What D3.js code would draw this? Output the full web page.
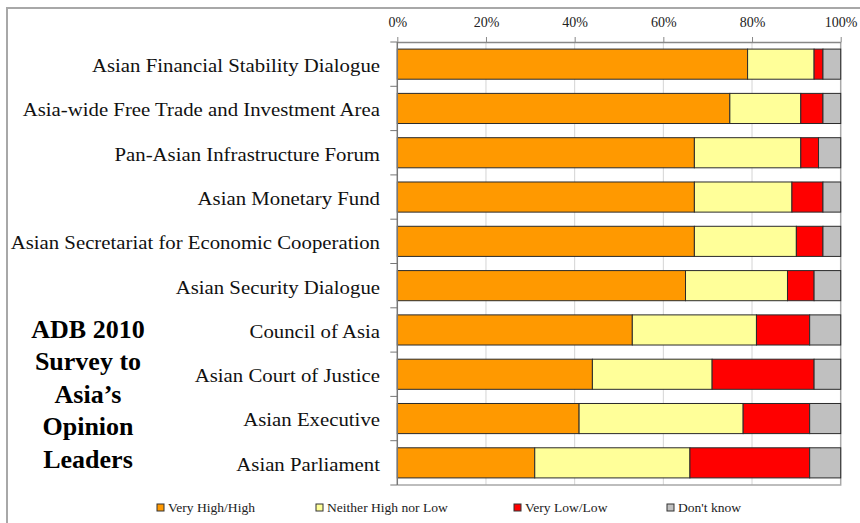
<!DOCTYPE html>
<html>
<head>
<meta charset="utf-8">
<script src="https://cdn.jsdelivr.net/npm/d3@7"></script>
<style>
  html, body { margin: 0; padding: 0; background: #fff; }
  svg { display: block; }
</style>
</head>
<body>
<svg id="chart" width="860" height="523"></svg>
<script>
// Survey responses: share of opinion leaders rating each proposed institution
const categories = [
  "Asian Financial Stability Dialogue",
  "Asia-wide Free Trade and Investment Area",
  "Pan-Asian Infrastructure Forum",
  "Asian Monetary Fund",
  "Asian Secretariat for Economic Cooperation",
  "Asian Security Dialogue",
  "Council of Asia",
  "Asian Court of Justice",
  "Asian Executive",
  "Asian Parliament"
];
const veryHigh = [79, 75, 67, 67, 67, 65, 53, 44, 41, 31];
const neither  = [15, 16, 24, 22, 23, 23, 28, 27, 37, 35];
const veryLow  = [2, 5, 4, 7, 6, 6, 12, 23, 15, 27];
const dontKnow = [4, 4, 5, 4, 4, 6, 7, 6, 7, 7];

const seriesNames = ["Very High/High", "Neither High nor Low", "Very Low/Low", "Don't know"];
const seriesColors = ["#FF9900", "#FFFF99", "#FF0000", "#C0C0C0"];
const tickValues = [0, 0.2, 0.4, 0.6, 0.8, 1];
const titleLines = ["ADB 2010", "Survey to", "Asia\u2019s", "Opinion", "Leaders"];

const rows = categories.map((c, i) => ({
  category: c, v0: veryHigh[i], v1: neither[i], v2: veryLow[i], v3: dontKnow[i]
}));
const stack = d3.stack().keys(["v0", "v1", "v2", "v3"]).offset(d3.stackOffsetExpand);
const layers = stack(rows);

const svg = d3.select("#chart");
const serif = "'Liberation Serif', 'Times New Roman', serif";

// outer frame
svg.append("path")
  .attr("d", "M7,523 V8 H860")
  .attr("fill", "none").attr("stroke", "#a8a8a8").attr("stroke-width", 2);

const plot = { left: 397.3, right: 840.7, top: 42, bottom: 485 };
const x = d3.scaleLinear().domain([0, 1]).range([plot.left, plot.right]);
const y = d3.scaleBand().domain(categories).range([plot.top, plot.bottom])
  .paddingInner(0.32).paddingOuter(0.16);

// vertical gridlines
svg.append("g").selectAll("line")
  .data(tickValues.slice(1, -1))
  .join("line")
  .attr("x1", d => x(d)).attr("x2", d => x(d))
  .attr("y1", plot.top).attr("y2", plot.bottom)
  .attr("stroke", "#d4d4d4").attr("stroke-width", 1);

// plot frame right and bottom
svg.append("path")
  .attr("d", `M${plot.left},${plot.bottom} H${plot.right} V${plot.top}`)
  .attr("fill", "none").attr("stroke", "#a8a8a8").attr("stroke-width", 1.5);

// top percentage axis
const xAxis = d3.axisTop(x).tickValues(tickValues).tickFormat(d3.format(".0%"))
  .tickSizeInner(5).tickSizeOuter(0).tickPadding(10);
const gx = svg.append("g").attr("transform", `translate(0,${plot.top})`).call(xAxis);
gx.select(".domain").attr("stroke", "#888").attr("stroke-width", 1.5);
gx.selectAll(".tick line").attr("stroke", "#888");
gx.selectAll(".tick text")
  .attr("font-family", serif).attr("font-size", 14).attr("fill", "#222");

// stacked bars
svg.append("g").selectAll("g")
  .data(layers)
  .join("g")
  .attr("fill", (d, i) => seriesColors[i])
  .selectAll("rect")
  .data(d => d)
  .join("rect")
  .attr("x", d => x(d[0]))
  .attr("width", d => x(d[1]) - x(d[0]))
  .attr("y", d => y(d.data.category))
  .attr("height", y.bandwidth())
  .attr("stroke", "#2a2a2a").attr("stroke-width", 1);

// category axis on the left, ticks at band boundaries
const gy = svg.append("g");
gy.append("line")
  .attr("x1", plot.left).attr("x2", plot.left)
  .attr("y1", plot.top).attr("y2", plot.bottom)
  .attr("stroke", "#777").attr("stroke-width", 1.5);
const bounds = d3.range(categories.length + 1).map(i => plot.top + i * y.step());
gy.selectAll("line.tick")
  .data(bounds)
  .join("line").attr("class", "tick")
  .attr("x1", plot.left - 7).attr("x2", plot.left)
  .attr("y1", d => d).attr("y2", d => d)
  .attr("stroke", "#777").attr("stroke-width", 1);
// labels use a slightly widened serif face
gy.selectAll("text")
  .data(categories)
  .join("text")
  .attr("transform", d => `translate(380,${y(d) + y.bandwidth() / 2}) scale(1.155,1)`)
  .attr("dy", "0.44em")
  .attr("text-anchor", "end")
  .attr("font-family", serif).attr("font-size", 18).attr("fill", "#111")
  .text(d => d);

// title block
svg.append("g").selectAll("text")
  .data(titleLines)
  .join("text")
  .attr("x", 88)
  .attr("y", (d, i) => 337.5 + i * 32.5)
  .attr("text-anchor", "middle")
  .attr("font-family", serif).attr("font-weight", "bold").attr("font-size", 26)
  .attr("fill", "#000")
  .text(d => d);

// legend
const legendX = [157, 316, 514, 667];
const legend = svg.append("g").selectAll("g")
  .data(seriesNames)
  .join("g")
  .attr("transform", (d, i) => `translate(${legendX[i]},504)`);
legend.append("rect")
  .attr("width", 7).attr("height", 7)
  .attr("fill", (d, i) => seriesColors[i])
  .attr("stroke", "#333").attr("stroke-width", 1);
legend.append("text")
  .attr("transform", "translate(11,8) scale(1.18,1)")
  .attr("font-family", serif).attr("font-size", 11.5).attr("fill", "#222")
  .text(d => d);
</script>
</body>
</html>
